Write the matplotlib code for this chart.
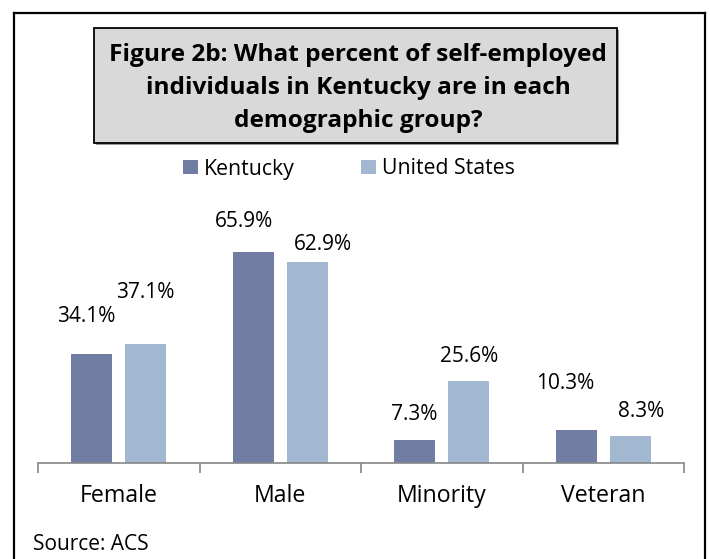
import numpy as np
import matplotlib
matplotlib.use("Agg")
import matplotlib.pyplot as plt
from matplotlib.patches import Rectangle
from matplotlib.lines import Line2D

# data
categories = ["Female", "Male", "Minority", "Veteran"]
kentucky = [34.1, 65.9, 7.3, 10.3]
united_states = [37.1, 62.9, 25.6, 8.3]
series_names = ["Kentucky", "United States"]

KY_COLOR = "#717da2"
US_COLOR = "#a1b8d0"

# label offsets in pixels (dx, dy above bar top) -- labels were placed by hand in the original
ky_offsets = [(-6, 37), (-9, 31), (-1, 25), (-11, 47)]
us_offsets = [(0, 52), (16, 17), (0, 25), (11, 25)]

W, H = 710, 559
plt.rcParams['font.family'] = ['Open Sans', 'DejaVu Sans']
fig = plt.figure(figsize=(W / 100, H / 100), dpi=100)


def fx(px):
    return px / W


def fy(py):
    return 1 - py / H


# outer border (no bottom edge visible)
for (x0, y0, x1, y1) in [(14, 13, 705, 13), (14, 13, 14, 559), (705, 13, 705, 559)]:
    fig.add_artist(Line2D([fx(x0), fx(x1)], [fy(y0), fy(y1)], color="black", lw=1.6))

# title box with a small shadow
fig.add_artist(Rectangle((fx(96), fy(145)), fx(523), 115 / H, facecolor="#9a9a9a",
                         edgecolor="none", transform=fig.transFigure))
fig.add_artist(Rectangle((fx(94), fy(143)), fx(523), 115 / H, facecolor="#d9d9d9",
                         edgecolor="black", lw=1.3, transform=fig.transFigure))
fig.text(fx(358), fy(88), "Figure 2b: What percent of self-employed\n"
         "individuals in Kentucky are in each\ndemographic group?",
         ha="center", va="center", fontsize=17.6, fontweight="bold",
         linespacing=1.48, color="black")

ax = fig.add_axes([fx(38), fy(463), fx(646), 224 / H])
x = np.arange(len(categories)) + 0.5
width = 0.254
shift = 0.167
b1 = ax.bar(x - shift, kentucky, width, color=KY_COLOR, label=series_names[0])
b2 = ax.bar(x + shift, united_states, width, color=US_COLOR, label=series_names[1])

for bars, vals, offs in [(b1, kentucky, ky_offsets), (b2, united_states, us_offsets)]:
    for bar, v, (dx, dy) in zip(bars, vals, offs):
        ax.annotate(f"{v:.1f}%", (bar.get_x() + bar.get_width() / 2, v),
                    xytext=(dx, dy), textcoords="offset pixels",
                    ha="center", va="center", fontsize=15)

ax.set_xlim(0, 4)
ax.set_ylim(0, 70)
ax.set_yticks([])
for s in ["left", "right", "top"]:
    ax.spines[s].set_visible(False)
ax.spines["bottom"].set_color("#868686")
ax.spines["bottom"].set_linewidth(1.2)
ax.set_xticks(x)
ax.set_xticklabels(categories, fontsize=16.7)
ax.tick_params(axis="x", which="major", length=0, pad=15)
ax.set_xticks(np.arange(5), minor=True)
ax.tick_params(axis="x", which="minor", length=7, width=1.2, color="#868686", direction="out")
ax.patch.set_alpha(0)

fig.legend(handles=[b1, b2], labels=series_names, loc="center",
           bbox_to_anchor=(fx(349), fy(169)), ncol=2, frameon=False,
           fontsize=15.3, handlelength=0.7, handleheight=0.6,
           handletextpad=0.3, columnspacing=3.1)

fig.text(fx(33), fy(545), "Source: ACS", ha="left", va="center", fontsize=15)

fig.savefig("out.png", dpi=100)
